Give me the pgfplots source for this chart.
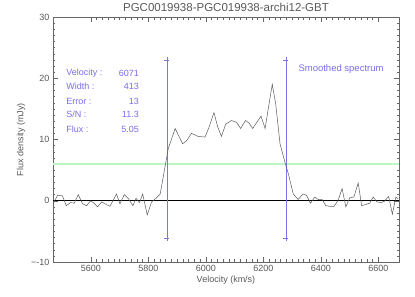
\documentclass[border=0pt]{standalone}
\usepackage{pgfplots}
\pgfplotsset{compat=1.18}
\usepackage{fontspec}
\setmainfont{Liberation Sans}
\definecolor{specgray}{HTML}{5A5A5A}
\definecolor{annblue}{HTML}{7A6CF0}
\definecolor{vlblue}{HTML}{7A74E8}
\definecolor{lgreen}{HTML}{BDF7C4}
\begin{document}
\begin{tikzpicture}
\begin{axis}[
  name=ax,
  scale only axis,
  width=346pt, height=245pt,
  xmin=5468, xmax=6672, ymin=-10, ymax=30,
  xtick={5600,5800,6000,6200,6400,6600},
  ytick={-10,0,10,20,30},
  minor x tick num=9, minor y tick num=9,
  tick align=inside,
  major tick length=5pt, minor tick length=2.5pt,
  every tick/.style={black!60, line width=0.4pt},
  axis line style={black!60, line width=0.5pt},
  tick label style={font=\fontsize{9}{10}\selectfont, text=black!65},
  /pgf/number format/assume math mode=true,
  /pgf/number format/1000 sep={},
  yticklabel={\ifdim\tick pt<0pt −\pgfmathprintnumber{\tick}\else\pgfmathprintnumber{\tick}\fi},
  xlabel={Velocity (km/s)},
  ylabel={Flux density (mJy)},
  label style={font=\fontsize{9}{10}\selectfont, text=black!65},
  xlabel style={yshift=3pt},
  ylabel style={yshift=-1pt},
  title={PGC0019938-PGC019938-archi12-GBT},
  title style={font=\fontsize{11.5}{12}\selectfont, text=black!65, yshift=-4pt},
  clip=true,
]
\addplot[lgreen, line width=1.2pt] coordinates {(5468,6.0) (6672,6.0)};
\addplot[black, line width=1.2pt] coordinates {(5468,0) (6672,0)};
\addplot[vlblue, line width=0.5pt, mark=+, mark size=2.5pt, mark options={solid}] coordinates {(5864,-6.2) (5864,23.0)};
\addplot[vlblue, line width=0.5pt, mark=+, mark size=2.5pt, mark options={solid}] coordinates {(6278,-6.2) (6278,23.0)};
\addplot[specgray, line width=0.5pt] table {
x y
5468 -0.5
5484 0.9
5501 0.8
5514 -0.8
5529 -0.3
5542 -0.4
5556 1.0
5571 -0.5
5585 -0.8
5599 0.0
5608 -0.3
5623 -1.0
5637 -0.2
5649 -0.5
5666 -0.9
5677 0.05
5689 1.1
5701 -0.5
5716 1.0
5731 0.3
5746 -0.8
5757 0.4
5769 -0.3
5780 1.1
5796 -2.3
5811 -0.2
5826 0.4
5841 1.1
5858 5.6
5869 8.5
5893 11.8
5919 9.3
5933 9.8
5950 11.0
5973 10.5
5997 10.4
6011 12.0
6028 14.4
6041 12.1
6054 10.5
6069 12.5
6089 13.1
6107 12.8
6121 11.8
6138 13.1
6150 12.7
6163 11.8
6177 12.8
6192 13.8
6206 11.8
6217 15.0
6231 19.0
6243 15.8
6258 9.3
6275 6.3
6287 4.4
6304 1.1
6321 0.2
6338 1.1
6350 0.9
6364 -0.4
6379 0.6
6391 0.2
6405 0.2
6417 -0.8
6431 -0.9
6446 -0.9
6460 0.05
6474 2.0
6487 -1.0
6501 0.5
6515 0.6
6530 2.9
6542 -0.8
6557 -0.6
6570 -0.4
6582 0.6
6596 -0.2
6611 -0.3
6622 -0.05
6636 0.7
6649 -2.2
6661 0.6
6669 0.3
};
\begin{scope}[every node/.style={font=\fontsize{9}{10}\selectfont, text=annblue, inner sep=0pt}]
\node[anchor=west] at (rel axis cs:0.038,0.770) {Velocity :};
\node[anchor=west] at (rel axis cs:0.038,0.716) {Width :};
\node[anchor=west] at (rel axis cs:0.038,0.657) {Error :};
\node[anchor=west] at (rel axis cs:0.038,0.603) {S/N :};
\node[anchor=west] at (rel axis cs:0.038,0.543) {Flux :};
\node[anchor=east] at (rel axis cs:0.2486,0.770) {6071};
\node[anchor=east] at (rel axis cs:0.2486,0.716) {413};
\node[anchor=east] at (rel axis cs:0.2486,0.657) {13};
\node[anchor=east] at (rel axis cs:0.2486,0.603) {11.3};
\node[anchor=east] at (rel axis cs:0.2486,0.543) {5.05};
\node[anchor=west, font=\fontsize{9.5}{10}\selectfont] at (rel axis cs:0.709,0.787) {Smoothed spectrum};
\end{scope}
\end{axis}
\pgfresetboundingbox
\path[use as bounding box] ([xshift=-53pt,yshift=-35pt]ax.south west) rectangle ([xshift=16pt,yshift=17pt]ax.north east);
\end{tikzpicture}
\end{document}
